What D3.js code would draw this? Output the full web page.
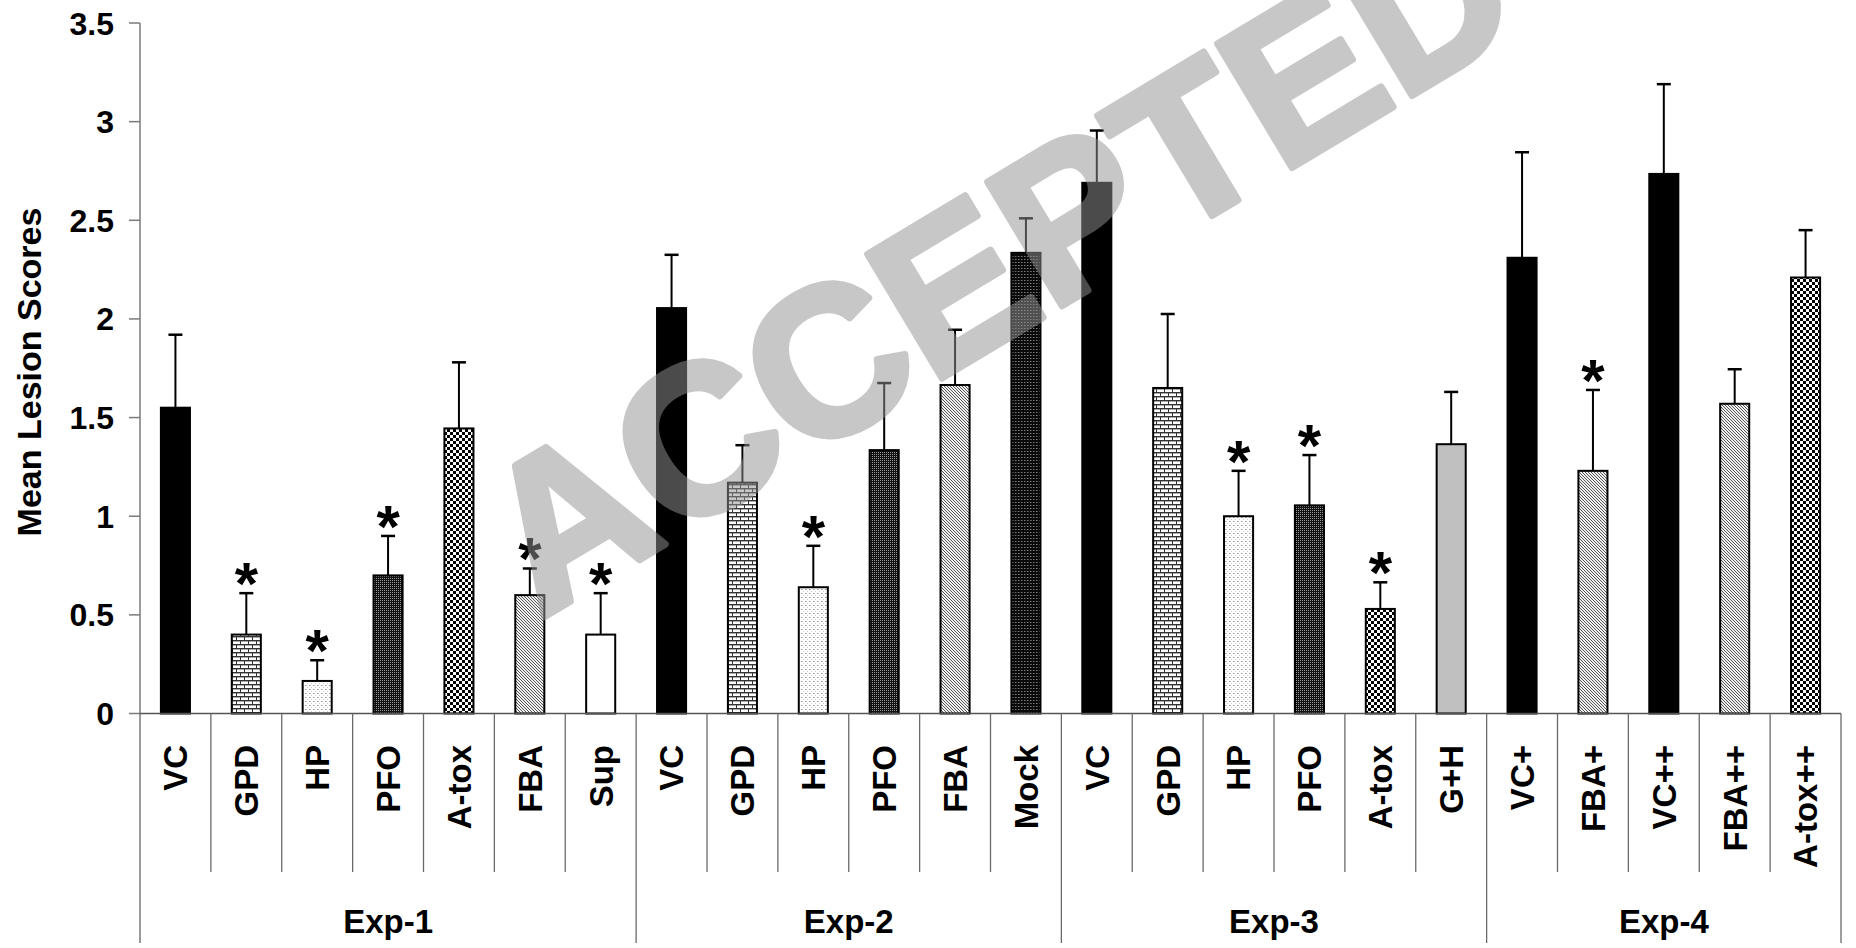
<!DOCTYPE html>
<html>
<head>
<meta charset="utf-8">
<script src="https://cdn.jsdelivr.net/npm/d3@7/dist/d3.min.js"></script>
<style>
  html, body { margin: 0; padding: 0; background: #fff; }
  svg { display: block; }
  text { font-family: "Liberation Sans", Arial, sans-serif; font-weight: bold; }
</style>
</head>
<body>
<svg id="chart" width="1856" height="948"></svg>
<script>
// ---------------- data ----------------
const groups = ["Exp-1", "Exp-2", "Exp-3", "Exp-4"];
const groupSizes = [7, 6, 6, 5];
const categories = [
  "VC", "GPD", "HP", "PFO", "A-tox", "FBA", "Sup",
  "VC", "GPD", "HP", "PFO", "FBA", "Mock",
  "VC", "GPD", "HP", "PFO", "A-tox", "G+H",
  "VC+", "FBA+", "VC++", "FBA++", "A-tox++"
];
const means = [
  1.55, 0.40, 0.165, 0.70, 1.445, 0.60, 0.40,
  2.055, 1.17, 0.64, 1.335, 1.665, 2.335,
  2.69, 1.65, 1.00, 1.055, 0.53, 1.365,
  2.31, 1.23, 2.735, 1.57, 2.21
];
const errors = [
  0.37, 0.21, 0.105, 0.20, 0.335, 0.135, 0.21,
  0.27, 0.19, 0.21, 0.34, 0.28, 0.175,
  0.265, 0.375, 0.23, 0.255, 0.135, 0.265,
  0.535, 0.41, 0.455, 0.175, 0.24
];
const significant = [
  false, true, true, true, false, true, true,
  false, false, true, false, false, false,
  false, false, true, true, true, false,
  false, true, false, false, false
];
const yTickValues = [0, 0.5, 1, 1.5, 2, 2.5, 3, 3.5];
const yTickLabels = ["0", "0.5", "1", "1.5", "2", "2.5", "3", "3.5"];
const yTitle = "Mean Lesion Scores";
const watermark = "ACCEPTED";

(function () {
// ---------------- layout ----------------
const svg = d3.select("#chart");
const plotLeft = 140, plotRight = 1841, plotTop = 23, zeroY = 713.5;
const catLineBottom = 872, groupLineBottom = 943;

const x = d3.scaleBand().domain(d3.range(categories.length)).range([plotLeft, plotRight]).paddingInner(0).paddingOuter(0);
const y = d3.scaleLinear().domain([0, 3.5]).range([zeroY, plotTop]);
const barW = x.bandwidth() * 0.41;

// ---------------- patterns ----------------
const defs = svg.append("defs");
function pat(id, w, h, build) {
  const p = defs.append("pattern").attr("id", id).attr("patternUnits", "userSpaceOnUse")
    .attr("width", w).attr("height", h);
  build(p);
}
pat("brick", 8, 8, p => {
  p.append("rect").attr("width", 8).attr("height", 8).attr("fill", "#fff");
  p.append("rect").attr("x", 0).attr("y", 0).attr("width", 8).attr("height", 1).attr("fill", "#333");
  p.append("rect").attr("x", 0).attr("y", 4).attr("width", 8).attr("height", 1).attr("fill", "#333");
  p.append("rect").attr("x", 0).attr("y", 0).attr("width", 1).attr("height", 4).attr("fill", "#333");
  p.append("rect").attr("x", 4).attr("y", 4).attr("width", 1).attr("height", 4).attr("fill", "#333");
  p.append("rect").attr("x", 1).attr("y", 1).attr("width", 7).attr("height", 1).attr("fill", "#aaa");
  p.append("rect").attr("x", 0).attr("y", 5).attr("width", 4).attr("height", 1).attr("fill", "#aaa");
  p.append("rect").attr("x", 5).attr("y", 5).attr("width", 3).attr("height", 1).attr("fill", "#aaa");
});
pat("stipple", 4, 4, p => {
  p.append("rect").attr("width", 4).attr("height", 4).attr("fill", "#fff");
  p.append("rect").attr("x", 1).attr("y", 1).attr("width", 1.5).attr("height", 1).attr("fill", "#999");
  p.append("rect").attr("x", 3).attr("y", 3).attr("width", 1).attr("height", 1).attr("fill", "#ccc");
});
pat("darkdots", 2, 2, p => {
  p.append("rect").attr("width", 2).attr("height", 2).attr("fill", "#111");
  p.append("rect").attr("x", 0).attr("y", 0).attr("width", 1).attr("height", 1).attr("fill", "#9a9a9a");
});
pat("mock", 3, 3, p => {
  p.append("rect").attr("width", 3).attr("height", 3).attr("fill", "#0a0a0a");
  p.append("rect").attr("x", 1).attr("y", 1).attr("width", 1.5).attr("height", 1).attr("fill", "#7a7a7a");
});
pat("checker", 6, 6, p => {
  p.append("rect").attr("width", 6).attr("height", 6).attr("fill", "#fff");
  p.append("rect").attr("x", 0).attr("y", 0).attr("width", 3).attr("height", 3).attr("fill", "#000");
  p.append("rect").attr("x", 3).attr("y", 3).attr("width", 3).attr("height", 3).attr("fill", "#000");
});
pat("diag", 3, 3, p => {
  p.append("rect").attr("width", 3).attr("height", 3).attr("fill", "#f0f0f0");
  p.append("path").attr("d", "M-1,-1 L4,4 M-1,2 L1,4 M2,-1 L4,1").attr("stroke", "#555").attr("stroke-width", 1);
});

function fillFor(name) {
  if (name.startsWith("VC")) return "#000";
  if (name === "GPD") return "url(#brick)";
  if (name === "HP") return "url(#stipple)";
  if (name === "PFO") return "url(#darkdots)";
  if (name === "Mock") return "url(#mock)";
  if (name.startsWith("A-tox")) return "url(#checker)";
  if (name.startsWith("FBA")) return "url(#diag)";
  if (name === "G+H") return "#c0c0c0";
  return "#fff";
}

const data = categories.map((c, i) => ({ i, name: c, mean: means[i], err: errors[i], sig: significant[i] }));

// ---------------- bars ----------------
const cx = i => x(i) + x.bandwidth() / 2;
svg.append("g").selectAll("rect").data(data).join("rect")
  .attr("x", d => cx(d.i) - barW / 2)
  .attr("y", d => y(d.mean))
  .attr("width", barW)
  .attr("height", d => y(0) - y(d.mean))
  .attr("fill", d => fillFor(d.name))
  .attr("stroke", "#000").attr("stroke-width", 2);

// ---------------- error bars ----------------
const eb = svg.append("g").attr("stroke", "#000");
eb.selectAll("line.v").data(data).join("line").attr("class", "v")
  .attr("x1", d => cx(d.i)).attr("x2", d => cx(d.i))
  .attr("y1", d => y(d.mean)).attr("y2", d => y(d.mean + d.err))
  .attr("stroke-width", 2);
eb.selectAll("line.c").data(data).join("line").attr("class", "c")
  .attr("x1", d => cx(d.i) - 7).attr("x2", d => cx(d.i) + 7)
  .attr("y1", d => y(d.mean + d.err)).attr("y2", d => y(d.mean + d.err))
  .attr("stroke-width", 2.5);

// ---------------- asterisks ----------------
svg.append("g").selectAll("text").data(data.filter(d => d.sig)).join("text")
  .attr("x", d => cx(d.i)).attr("y", d => y(d.mean + d.err) + 11)
  .attr("text-anchor", "middle").attr("font-size", 60).attr("fill", "#000")
  .text("*");

// ---------------- y axis ----------------
const yAxis = svg.append("g");
yAxis.append("line").attr("x1", plotLeft).attr("x2", plotLeft).attr("y1", y(3.5)).attr("y2", groupLineBottom)
  .attr("stroke", "#7a7a7a").attr("stroke-width", 1.5);
yAxis.selectAll("line.t").data(yTickValues).join("line").attr("class", "t")
  .attr("x1", plotLeft - 11).attr("x2", plotLeft).attr("y1", d => y(d)).attr("y2", d => y(d))
  .attr("stroke", "#7a7a7a").attr("stroke-width", 1.5);
yAxis.selectAll("text").data(yTickValues).join("text")
  .attr("x", 114).attr("y", d => y(d)).attr("dy", "0.36em")
  .attr("text-anchor", "end").attr("font-size", 32).attr("fill", "#000")
  .text((d, i) => yTickLabels[i]);
svg.append("text")
  .attr("transform", "translate(29,372) rotate(-90)")
  .attr("dy", "0.36em").attr("text-anchor", "middle").attr("font-size", 34).attr("fill", "#000")
  .text(yTitle);

// ---------------- x axis ----------------
const xAxis = svg.append("g");
xAxis.append("line").attr("x1", plotLeft).attr("x2", plotRight).attr("y1", zeroY).attr("y2", zeroY)
  .attr("stroke", "#555").attr("stroke-width", 1.5);
const groupStarts = [];
let acc = 0;
groupSizes.forEach(s => { groupStarts.push(acc); acc += s; });
const groupEdges = new Set(groupStarts.concat([categories.length]));
const edgeX = e => e < categories.length ? x(e) : plotRight;
const edges = d3.range(1, categories.length + 1);
xAxis.selectAll("line.sep").data(edges).join("line").attr("class", "sep")
  .attr("x1", edgeX).attr("x2", edgeX)
  .attr("y1", zeroY)
  .attr("y2", e => groupEdges.has(e) ? groupLineBottom : catLineBottom)
  .attr("stroke", "#6a6a6a").attr("stroke-width", 1.3);
xAxis.selectAll("text.cat").data(data).join("text").attr("class", "cat")
  .attr("transform", d => `translate(${cx(d.i)},745) rotate(-90)`)
  .attr("dy", "0.36em").attr("text-anchor", "end").attr("font-size", 33).attr("fill", "#000")
  .text(d => d.name);
xAxis.selectAll("text.grp").data(groups).join("text").attr("class", "grp")
  .attr("x", (g, k) => (edgeX(groupStarts[k]) + edgeX(groupStarts[k] + groupSizes[k])) / 2)
  .attr("y", 933)
  .attr("text-anchor", "middle").attr("font-size", 33).attr("fill", "#000")
  .text(g => g);

// ---------------- watermark ----------------
svg.append("g").attr("opacity", 0.51)
  .append("text")
  .attr("transform", "translate(1035,322) rotate(-31)")
  .attr("text-anchor", "middle").attr("font-size", 210)
  .attr("fill", "rgb(147,147,147)")
  .attr("stroke", "rgb(147,147,147)").attr("stroke-width", 7).attr("stroke-linejoin", "round")
  .text(watermark);
})();
</script>
</body>
</html>
